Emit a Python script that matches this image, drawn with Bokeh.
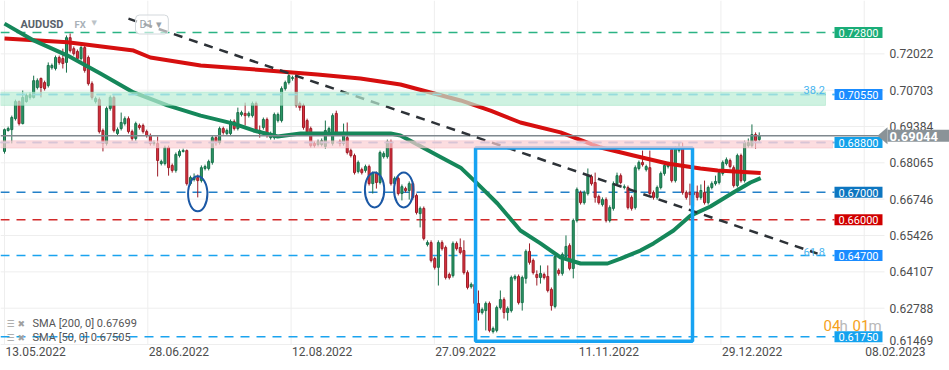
from bokeh.plotting import figure
from bokeh.models import (ColumnDataSource, Label, PolyAnnotation, BoxAnnotation, Range1d)
from bokeh.embed import file_html
from bokeh.resources import INLINE

# ---------------- data (daily AUDUSD candles, 13.05.2022 -> mid Jan 2023) ----------------
opens = [
    .6848, .6924, .6927, .6967, .7029, .6949, .7029, .7044, .7044, .7080,
    .7113, .7098, .7087, .7152, .7149, .7189, .7185, .7171, .7261, .7221,
    .7211, .7185, .7225, .7189, .7094, .7029, .7036, .6924, .6877, .7004,
    .7044, .6913, .6931, .6949, .6967, .6920, .6895, .6942, .6942, .6920,
    .6906, .6877, .6877, .6804, .6804, .6862, .6797, .6779, .6833, .6848,
    .6851, .6731, .6746, .6753, .6742, .6786, .6786, .6808, .6898, .6880,
    .6931, .6913, .6913, .6956, .6931, .6982, .6986, .6978, .6978, .7022,
    .6924, .6935, .6964, .6898, .6898, .6960, .6960, .7076, .7098, .7113,
    .7116, .7022, .7015, .6960, .6931, .6877, .6873, .6873, .6866, .6920,
    .6877, .6986, .6884, .6877, .6898, .6851, .6833, .6775, .6782, .6779,
    .6793, .6731, .6768, .6735, .6829, .6829, .6884, .6731, .6750, .6695,
    .6713, .6706, .6731, .6688, .6622, .6641, .6510, .6517, .6459, .6427,
    .6517, .6499, .6401, .6397, .6514, .6499, .6488, .6408, .6357, .6365,
    .6296, .6263, .6270, .6296, .6194, .6198, .6281, .6310, .6263, .6270,
    .6387, .6394, .6299, .6387, .6485, .6452, .6401, .6390, .6401, .6394,
    .6347, .6285, .6416, .6405, .6466, .6506, .6423, .6597, .6699, .6662,
    .6695, .6757, .6735, .6684, .6655, .6673, .6597, .6641, .6731, .6760,
    .6717, .6717, .6681, .6644, .6786, .6808, .6782, .6789, .6699, .6681,
    .6717, .6768, .6793, .6855, .6742, .6851, .6862, .6699, .6699, .6699,
    .6699, .6681, .6699, .6662, .6717, .6731, .6735, .6768, .6804, .6815,
    .6789, .6724, .6833, .6742, .6869, .6869, .6909, .6891,
]
highs = [
    .6931, .6938, .6978, .7036, .7033, .7069, .7058, .7062, .7123, .7113,
    .7116, .7105, .7171, .7167, .7196, .7196, .7221, .7269, .7276, .7229,
    .7218, .7232, .7232, .7196, .7102, .7047, .7044, .6931, .7011, .7051,
    .7051, .6935, .6989, .6975, .6975, .6927, .6956, .6949, .6949, .6927,
    .6913, .6887, .6902, .6818, .6869, .6869, .6804, .6844, .6855, .6858,
    .6855, .6760, .6768, .6764, .6797, .6800, .6818, .6906, .6906, .6938,
    .6938, .6931, .6964, .6964, .7007, .6996, .7025, .6993, .7029, .7029,
    .6942, .6971, .6971, .6920, .6989, .6989, .7084, .7105, .7131, .7123,
    .7123, .7029, .7022, .6967, .6938, .6884, .6891, .6895, .6960, .6938,
    .6986, .6996, .6891, .6949, .6953, .6858, .6840, .6815, .6789, .6800,
    .6800, .6775, .6775, .6851, .6848, .6891, .6891, .6757, .6757, .6728,
    .6720, .6739, .6739, .6695, .6648, .6648, .6525, .6525, .6466, .6525,
    .6525, .6506, .6408, .6521, .6521, .6532, .6525, .6416, .6372, .6372,
    .6343, .6281, .6303, .6303, .6212, .6288, .6343, .6318, .6285, .6397,
    .6401, .6401, .6397, .6492, .6514, .6459, .6416, .6434, .6408, .6434,
    .6354, .6474, .6423, .6481, .6543, .6514, .6604, .6717, .6706, .6706,
    .6786, .6764, .6771, .6691, .6681, .6681, .6652, .6739, .6771, .6768,
    .6728, .6724, .6688, .6797, .6815, .6851, .6800, .6851, .6706, .6724,
    .6775, .6804, .6811, .6862, .6866, .6880, .6880, .6706, .6731, .6706,
    .6724, .6728, .6742, .6724, .6739, .6760, .6779, .6815, .6826, .6822,
    .6797, .6840, .6840, .6887, .6895, .6946, .6917, .6917,
]
lows = [
    .6840, .6920, .6877, .6960, .6942, .6946, .7025, .7036, .7040, .7073,
    .7044, .7069, .7080, .7145, .7142, .7163, .7149, .7134, .7207, .7196,
    .7178, .7178, .7134, .7087, .7036, .7022, .6913, .6848, .6869, .6996,
    .6917, .6906, .6924, .6942, .6913, .6887, .6887, .6927, .6913, .6898,
    .6869, .6869, .6757, .6797, .6797, .6760, .6771, .6771, .6826, .6844,
    .6724, .6724, .6739, .6681, .6735, .6779, .6779, .6800, .6869, .6873,
    .6909, .6906, .6906, .6924, .6924, .6975, .6942, .6971, .6971, .6917,
    .6898, .6927, .6898, .6891, .6891, .6953, .6953, .7069, .7091, .7105,
    .7007, .6996, .6927, .6909, .6862, .6862, .6866, .6866, .6858, .6913,
    .6869, .6906, .6866, .6869, .6837, .6826, .6764, .6768, .6764, .6771,
    .6724, .6695, .6713, .6728, .6822, .6822, .6724, .6724, .6688, .6670,
    .6699, .6673, .6673, .6619, .6572, .6525, .6503, .6445, .6419, .6361,
    .6488, .6383, .6383, .6390, .6488, .6474, .6401, .6347, .6350, .6288,
    .6234, .6256, .6198, .6191, .6187, .6191, .6274, .6241, .6234, .6263,
    .6379, .6292, .6270, .6368, .6437, .6401, .6361, .6368, .6383, .6336,
    .6270, .6278, .6397, .6397, .6459, .6416, .6387, .6590, .6655, .6655,
    .6688, .6724, .6662, .6655, .6648, .6590, .6590, .6633, .6724, .6728,
    .6710, .6637, .6633, .6637, .6779, .6793, .6775, .6688, .6673, .6673,
    .6710, .6760, .6786, .6735, .6735, .6844, .6691, .6673, .6652, .6648,
    .6670, .6673, .6655, .6655, .6710, .6724, .6728, .6760, .6797, .6786,
    .6717, .6717, .6735, .6735, .6862, .6862, .6858, .6884,
]
closes = [
    .6927, .6931, .6971, .7029, .6949, .7044, .7051, .7054, .7105, .7105,
    .7080, .7076, .7160, .7160, .7189, .7171, .7167, .7261, .7214, .7203,
    .7185, .7225, .7142, .7094, .7044, .7040, .6920, .6877, .7004, .7044,
    .6924, .6927, .6953, .6967, .6920, .6895, .6949, .6935, .6920, .6906,
    .6877, .6880, .6815, .6811, .6862, .6789, .6779, .6837, .6848, .6851,
    .6731, .6753, .6753, .6742, .6789, .6793, .6811, .6898, .6880, .6931,
    .6917, .6924, .6956, .6931, .6989, .6989, .6978, .6986, .7022, .6924,
    .6913, .6964, .6906, .6913, .6982, .6982, .7076, .7098, .7123, .7116,
    .7015, .7007, .6935, .6917, .6869, .6869, .6884, .6887, .6924, .6931,
    .6978, .6913, .6877, .6917, .6844, .6833, .6771, .6808, .6771, .6793,
    .6731, .6768, .6735, .6844, .6840, .6884, .6731, .6750, .6695, .6720,
    .6706, .6731, .6681, .6626, .6641, .6532, .6517, .6452, .6427, .6517,
    .6495, .6390, .6390, .6514, .6495, .6481, .6408, .6354, .6365, .6296,
    .6263, .6274, .6296, .6198, .6205, .6281, .6310, .6263, .6278, .6390,
    .6394, .6299, .6390, .6485, .6445, .6408, .6390, .6405, .6390, .6343,
    .6288, .6466, .6405, .6474, .6503, .6423, .6597, .6710, .6662, .6699,
    .6760, .6731, .6681, .6662, .6673, .6597, .6644, .6731, .6760, .6735,
    .6720, .6644, .6641, .6789, .6808, .6800, .6793, .6695, .6681, .6717,
    .6768, .6797, .6804, .6742, .6858, .6862, .6699, .6681, .6691, .6691,
    .6681, .6706, .6662, .6717, .6731, .6739, .6771, .6808, .6818, .6793,
    .6724, .6833, .6742, .6880, .6880, .6909, .6887, .69044,
]

# moving averages (bar index, value)
sma200_idx = [0, 17.3, 35.4, 40.0, 53.8, 72.1, 85.8, 97.6, 108.6, 116.8, 125.1, 133.3,
              141.5, 152.5, 163.5, 172.5, 181.8, 190.9, 195.6, 207.4]
sma200_val = [0.7258, 0.7244, 0.7214, 0.7189, 0.7160, 0.7142, 0.7127, 0.7113, 0.7091, 0.7062,
              0.7033, 0.6996, 0.6953, 0.6917, 0.6862, 0.6833, 0.6804, 0.6786, 0.6779, 0.6770]
sma50_idx = [0, 8.0, 17.3, 26.3, 35.4, 44.7, 53.8, 62.8, 68.3, 74.9, 81.2, 94.9, 105.9,
             108.6, 112.2, 118.8, 125.1, 129.7, 135.2, 141.5, 147.0, 152.5, 158.0, 165.4,
             169.0, 174.4, 178.0, 183.5, 188.2, 193.6, 199.9, 204.6, 207.4]
sma50_val = [0.7312, 0.7251, 0.7196, 0.7131, 0.7062, 0.7015, 0.6978, 0.6949, 0.6924, 0.6902,
             0.6913, 0.6913, 0.6913, 0.6906, 0.6880, 0.6833, 0.6789, 0.6731, 0.6659, 0.6561,
             0.6514, 0.6463, 0.6441, 0.6441, 0.6459, 0.6488, 0.6514, 0.6561, 0.6615, 0.6648,
             0.6699, 0.6735, 0.6751]
sma200_last, sma50_last = "0.67699", "0.67505"

# horizontal levels
levels = [0.728, 0.7055, 0.688, 0.670, 0.660, 0.647, 0.6175]
level_texts = ["0.72800", "0.70550", "0.68800", "0.67000", "0.66000", "0.64700", "0.61750"]
level_line_colors = ["#2bb384", "#45b5ef", "#86acdc", "#2380c8", "#d22a2a", "#1aa3ef", "#1aa3ef"]
level_box_colors = ["#1aad78", "#1a8cff", "#13a1ea", "#0d76c0", "#d00000", "#1a8cff", "#14a2ee"]
green_zone = (0.7015, 0.7064)
pink_zone = (0.6860, 0.6887)
fib_texts = ["38.2", "61.8"]
fib_levels = [0.7055, 0.647]
last_price = 0.69044

# drawings
trend_idx = [34.0, 223.0]
trend_val = [0.7330, 0.6477]
box_idx = (129.2, 188.7)
box_val = (0.6159, 0.6860)
ell_idx = [53.0, 101.5, 109.5]
ell_val = [0.6694, 0.6708, 0.6708]

y_ticks = [0.61469, 0.62788, 0.64107, 0.65426, 0.66746, 0.68065, 0.69384, 0.70703, 0.72022]
date_labels = ["13.05.2022", "28.06.2022", "12.08.2022", "27.09.2022",
               "11.11.2022", "29.12.2022", "08.02.2023"]
TICK_STEP = 39.3   # bars between date grid lines

# ---------------- layout helpers (the frame covers the whole 949x370 canvas) ----------------
W, H = 949, 370
BAR_PX = 3.646
TOP, BOTTOM, PLOT_RIGHT = 17, 344, 884
Y_MIN, Y_MAX = 0.61469, 0.73342
PX_Y = (Y_MAX - Y_MIN) / (BOTTOM - TOP)


def X(px):
    return (px - 4) / BAR_PX


def Y(py):
    return Y_MAX - (py - TOP) * PX_Y


p = figure(frame_width=W, frame_height=H,
           x_range=Range1d(X(0), X(W)), y_range=Range1d(Y(H), Y(0)),
           x_axis_location=None, y_axis_location=None,
           output_backend="svg", toolbar_location=None,
           min_border_left=0, min_border_top=0, min_border_bottom=0, min_border_right=0)
p.outline_line_color = None
p.grid.visible = False

# grid
nt = len(y_ticks)
p.segment(x0=[X(0)] * nt, x1=[X(PLOT_RIGHT)] * nt, y0=y_ticks, y1=y_ticks,
          line_color="#eeeeee", line_width=1)
gx = [k * TICK_STEP for k in range(len(date_labels))]
p.segment(x0=gx, x1=gx, y0=[Y(0)] * len(gx), y1=[Y(BOTTOM)] * len(gx),
          line_color="#eeeeee", line_width=1)

# level lines (under candles)
xe = X(834)
p.segment(x0=[X(0)] * len(levels), x1=[xe] * len(levels), y0=levels, y1=levels,
          line_color=level_line_colors, line_width=1.5, line_dash="9 7")

# candles
idx = list(range(len(closes)))
up = [c >= o for o, c in zip(opens, closes)]
src = ColumnDataSource(dict(
    x=idx, o=opens, h=highs, l=lows, c=closes,
    top=[max(o, c) for o, c in zip(opens, closes)],
    bot=[min(o, c) for o, c in zip(opens, closes)],
    fill=["#2e9966" if u else "#df3440" for u in up],
    edge=["#17704a" if u else "#9c1c27" for u in up],
))
p.segment(x0="x", x1="x", y0="l", y1="h", line_color="edge", line_width=1, source=src)
p.vbar(x="x", width=0.55, top="top", bottom="bot", fill_color="fill",
       line_color="edge", line_width=1, source=src)

# moving averages
p.line(sma200_idx, sma200_val, line_color="#d60f0f", line_width=4, line_join="round")
p.line(sma50_idx, sma50_val, line_color="#15875a", line_width=4, line_join="round")

# zones (tint over candles)
p.add_layout(BoxAnnotation(left=X(0), bottom=green_zone[0], top=green_zone[1], right=X(825),
                           fill_color="#b9ecd4", fill_alpha=0.7,
                           line_color="#7fd6ad", line_width=1))
p.add_layout(BoxAnnotation(left=X(0), bottom=pink_zone[0], top=pink_zone[1], right=X(832),
                           fill_color="#fbcfd3", fill_alpha=0.7,
                           line_color="#f2a0a8", line_width=1))
p.segment(x0=[X(0), X(0)], x1=[xe, xe], y0=[levels[1], levels[2]], y1=[levels[1], levels[2]],
          line_color=[level_line_colors[1], level_line_colors[2]], line_width=1.5, line_dash="9 7")

# current price line
p.segment(x0=[X(0)], x1=[X(880)], y0=[last_price], y1=[last_price],
          line_color="#7f888e", line_width=1.5)

# trend line, box, ellipses
p.line(trend_idx, trend_val, line_color="#2d3237", line_width=2.5, line_dash="9 7")
p.quad(left=[box_idx[0]], right=[box_idx[1]], bottom=[box_val[0]], top=[box_val[1]],
       fill_alpha=0, line_color="#17a3f2", line_width=3.5)
p.ellipse(x=ell_idx, y=ell_val, width=5.3, height=0.0127, fill_color=None,
          line_color="#1b58a5", line_width=2)

# price axis labels
for t in y_ticks:
    p.add_layout(Label(x=X(889), y=max(t, Y(340)), text=f"{t:.5f}", text_color="#4d4d4d",
                       text_font="Roboto", text_font_size="12px",
                       text_baseline="middle", text_align="left"))

# level labels
for lv, txt, bc in zip(levels, level_texts, level_box_colors):
    p.add_layout(Label(x=xe, y=lv, text=txt, text_color="white", text_font="Roboto",
                       text_font_size="11px", text_baseline="middle", text_align="left",
                       background_fill_color=bc,
                       padding=dict(left=4, right=4, top=2, bottom=1)))
for lv, txt in zip(fib_levels, fib_texts):
    p.add_layout(Label(x=X(803), y=lv, text=txt, text_color="#4ab5ef", text_font="Roboto",
                       text_font_size="11px", text_baseline="bottom", text_align="left"))

# last price tag
p.add_layout(PolyAnnotation(xs=[X(877), X(887), X(887)],
                            ys=[last_price, last_price + 8.5 * PX_Y, last_price - 8.5 * PX_Y],
                            fill_color="#8a9398", fill_alpha=1, line_color=None))
p.add_layout(Label(x=X(887), y=last_price, text=f"{last_price:.5f}", text_color="white",
                   text_font="Roboto", text_font_size="13px", text_font_style="bold",
                   text_baseline="middle", text_align="left", background_fill_color="#8a9398",
                   padding=dict(left=2, right=20, top=2, bottom=1)))

# date labels (left aligned at grid lines)
for k, lab in enumerate(date_labels):
    p.add_layout(Label(x=gx[k], y=Y(346), text=lab, text_color="#4d4d4d",
                       text_font="Roboto", text_font_size="12px",
                       text_baseline="top", text_align="left", x_offset=1))

# header
p.add_layout(Label(x=X(20), y=Y(24), text="AUDUSD", text_color="#59626b", text_font="Roboto",
                   text_font_size="11px", text_font_style="bold", text_baseline="middle"))
p.add_layout(Label(x=X(74), y=Y(24), text="FX", text_color="#a9b1b8", text_font="Roboto",
                   text_font_size="9.5px", text_font_style="bold", text_baseline="middle"))
p.add_layout(Label(x=X(91), y=Y(22), text="\u25BC", text_color="#bcc3c8", text_font="DejaVu Sans",
                   text_font_size="7px", text_baseline="middle"))
p.add_layout(Label(x=X(135), y=Y(24), text="D1  \u25BE", text_color="#9aa2a8", text_font="Roboto",
                   text_font_size="11px", text_baseline="middle", background_fill_color="white",
                   background_fill_alpha=0.6, border_line_color="#d3d8dc", border_radius=4,
                   padding=dict(left=4, right=4, top=3, bottom=3)))

# indicator legend
for py, txt in [(323, f"SMA [200, 0] {sma200_last}"), (337, f"SMA [50, 0] {sma50_last}")]:
    p.add_layout(Label(x=X(6), y=Y(py), text="\u2630 \u2716", text_color="#a0a0a0",
                       text_font="DejaVu Sans", text_font_size="9px", text_baseline="middle"))
    p.add_layout(Label(x=X(32), y=Y(py), text=txt, text_color="#555555", text_font="Roboto",
                       text_font_size="11px", text_baseline="middle"))

# candle timer
for px, txt, col in [(823, "04", "#f5a11c"), (839, "h", "#b8b8b8"),
                     (852, "01", "#f5a11c"), (868, "m", "#b8b8b8")]:
    p.add_layout(Label(x=X(px), y=Y(325), text=txt, text_color=col, text_font="Roboto",
                       text_font_size="15px", text_baseline="middle"))

open("out.html", "w").write(file_html(p, INLINE))
